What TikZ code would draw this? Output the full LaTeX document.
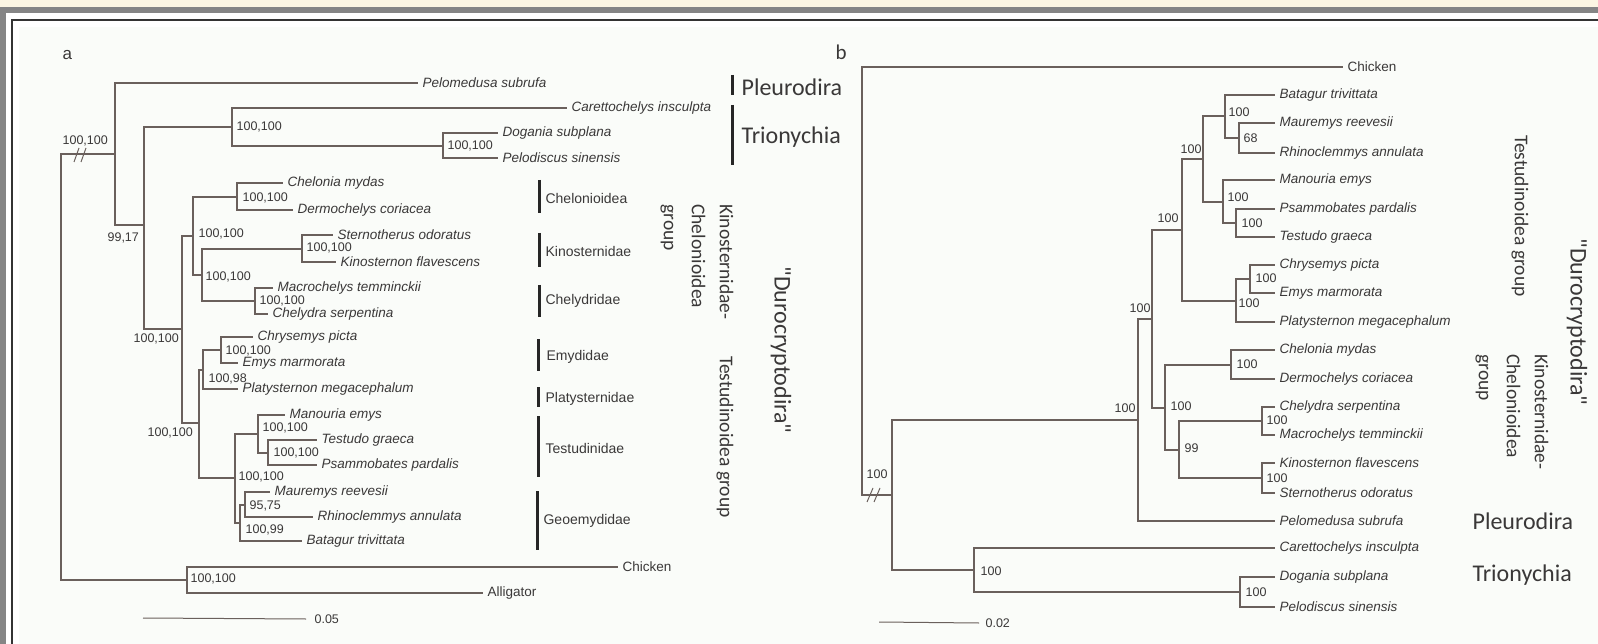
\documentclass[tikz,border=0pt]{standalone}
\usepackage{fontspec}
\setmainfont{Liberation Sans}
\newfontfamily\calfont{Carlito}
\definecolor{branch}{HTML}{6A605C}
\definecolor{ink}{HTML}{3A3838}
\definecolor{paper}{HTML}{FAFCF9}
\definecolor{cream}{HTML}{FCF6E3}
\definecolor{framegray}{HTML}{858585}

\begin{document}
\begin{tikzpicture}[x=1pt, y=-1pt, branch, line width=1.2pt,
  taxon/.style={anchor=west, inner xsep=4pt, inner ysep=0pt, text=ink, font=\fontsize{13.5}{14}\selectfont\itshape},
  supp/.style={anchor=west, inner sep=0pt, text=ink, font=\fontsize{12.5}{13}\selectfont},
  fam/.style={anchor=west, inner sep=0pt, text=ink, font=\fontsize{14}{15}\selectfont},
  clade/.style={anchor=west, inner sep=0pt, text=ink, font=\calfont\fontsize{24}{26}\selectfont},
  grouplab/.style={rotate=-90, align=left, inner sep=0pt, text=ink, font=\calfont\fontsize{19.5}{28}\selectfont},
  famBar/.style={line width=3pt, black!85}]
  \useasboundingbox (0,0) rectangle (1598,644);
  \fill[white] (0,0) rectangle (1598,644);
  \fill[cream] (0,0) rectangle (1598,7);
  \fill[framegray] (0,7) rectangle (1598,13); \fill[framegray] (0,7) rectangle (6,644);
  \fill[paper] (19,27) rectangle (1598,644);
  \draw[black!80, line width=2pt] (12,644) -- (12,20) -- (1598,20);

  % panel a
  \node[anchor=west, inner sep=0pt, text=ink, font=\fontsize{17}{17}\selectfont] (aTag) at (62,55) {a};
  \coordinate (aRoot) at (61,367);
  \coordinate (aTurt) at (115,154);
  \coordinate (aCrypto) at (144,225);
  \coordinate (aTrio) at (232,127);
  \coordinate (aPelod) at (443,146);
  \coordinate (aDuro) at (182,329);
  \coordinate (aKC) at (193,236);
  \coordinate (aChel) at (237,197);
  \coordinate (aKinChy) at (202,275);
  \coordinate (aKino) at (302,249);
  \coordinate (aChely) at (255,301);
  \coordinate (aTest) at (199,423);
  \coordinate (aEmyPla) at (203,370);
  \coordinate (aEmy) at (221,350);
  \coordinate (aTG) at (235,478);
  \coordinate (aTestu) at (258,434);
  \coordinate (aTP) at (268,453);
  \coordinate (aGeo) at (240,523);
  \coordinate (aMR) at (245,505);
  \coordinate (aOut) at (187,580);

  \node[taxon] (aPelomedusa) at (418,83) {Pelomedusa subrufa};
  \node[taxon] (aCaretto) at (567,108) {Carettochelys insculpta};
  \node[taxon] (aDogania) at (498,133) {Dogania subplana};
  \node[taxon] (aPelodiscus) at (498,158) {Pelodiscus sinensis};
  \node[taxon] (aChelonia) at (283,183) {Chelonia mydas};
  \node[taxon] (aDermo) at (293,210) {Dermochelys coriacea};
  \node[taxon] (aSterno) at (333,235) {Sternotherus odoratus};
  \node[taxon] (aKinos) at (336,262) {Kinosternon flavescens};
  \node[taxon] (aMacro) at (273,288) {Macrochelys temminckii};
  \node[taxon] (aChelydra) at (268,314) {Chelydra serpentina};
  \node[taxon] (aChrys) at (253,337) {Chrysemys picta};
  \node[taxon] (aEmys) at (238,363) {Emys marmorata};
  \node[taxon] (aPlaty) at (238,389) {Platysternon megacephalum};
  \node[taxon] (aManou) at (285,415) {Manouria emys};
  \node[taxon] (aTestudo) at (317,440) {Testudo graeca};
  \node[taxon] (aPsammo) at (317,465) {Psammobates pardalis};
  \node[taxon] (aMaure) at (270,492) {Mauremys reevesii};
  \node[taxon] (aRhino) at (313,517) {Rhinoclemmys annulata};
  \node[taxon] (aBatagur) at (302,541) {Batagur trivittata};
  \node[taxon, font=\fontsize{13.5}{14}\selectfont] (aChicken) at (618,567) {Chicken};
  \node[taxon, font=\fontsize{13.5}{14}\selectfont] (aAlli) at (483,593) {Alligator};

  \draw (aRoot) |- (aTurt); \draw (aRoot) |- (aOut);
  \draw (aTurt) |- (aPelomedusa.west); \draw (aTurt) |- (aCrypto);
  \draw (aCrypto) |- (aTrio); \draw (aCrypto) |- (aDuro);
  \draw (aTrio) |- (aCaretto.west); \draw (aTrio) |- (aPelod);
  \draw (aPelod) |- (aDogania.west); \draw (aPelod) |- (aPelodiscus.west);
  \draw (aDuro) |- (aKC); \draw (aDuro) |- (aTest);
  \draw (aKC) |- (aChel); \draw (aKC) |- (aKinChy);
  \draw (aChel) |- (aChelonia.west); \draw (aChel) |- (aDermo.west);
  \draw (aKinChy) |- (aKino); \draw (aKinChy) |- (aChely);
  \draw (aKino) |- (aSterno.west); \draw (aKino) |- (aKinos.west);
  \draw (aChely) |- (aMacro.west); \draw (aChely) |- (aChelydra.west);
  \draw (aTest) |- (aEmyPla); \draw (aTest) |- (aTG);
  \draw (aEmyPla) |- (aEmy); \draw (aEmyPla) |- (aPlaty.west);
  \draw (aEmy) |- (aChrys.west); \draw (aEmy) |- (aEmys.west);
  \draw (aTG) |- (aTestu); \draw (aTG) |- (aGeo);
  \draw (aTestu) |- (aManou.west); \draw (aTestu) |- (aTP);
  \draw (aTP) |- (aTestudo.west); \draw (aTP) |- (aPsammo.west);
  \draw (aGeo) |- (aMR); \draw (aGeo) |- (aBatagur.west);
  \draw (aMR) |- (aMaure.west); \draw (aMR) |- (aRhino.west);
  \draw (aOut) |- (aChicken.west); \draw (aOut) |- (aAlli.west);
  \draw[line width=1pt] (74,162) -- (79,148) (81,162) -- (86,148);

  \node[supp] (aS1) at (62,141) {100,100};
  \node[supp] (aS2) at (107,238) {99,17};
  \node[supp] (aS3) at (236,127) {100,100};
  \node[supp] (aS4) at (447,146) {100,100};
  \node[supp] (aS5) at (198,234) {100,100};
  \node[supp] (aS6) at (242,198) {100,100};
  \node[supp] (aS7) at (205,277) {100,100};
  \node[supp] (aS8) at (306,248) {100,100};
  \node[supp] (aS9) at (259,301) {100,100};
  \node[supp] (aS10) at (133,339) {100,100};
  \node[supp] (aS11) at (147,433) {100,100};
  \node[supp] (aS12) at (208,379) {100,98};
  \node[supp] (aS13) at (225,351) {100,100};
  \node[supp] (aS14) at (238,477) {100,100};
  \node[supp] (aS15) at (262,428) {100,100};
  \node[supp] (aS16) at (273,453) {100,100};
  \node[supp] (aS17) at (249,506) {95,75};
  \node[supp] (aS18) at (245,530) {100,99};
  \node[supp] (aS19) at (190,579) {100,100};

  \coordinate (aScaleL) at (143,618);
  \node[supp, inner xsep=8pt] (aScale) at (306,619) {0.05};
  \draw[line width=1pt] (aScaleL) -- (aScale.west);

  \draw[famBar] (732,75) -- (732,95); \node[clade] (aPleuro) at (741,87) {Pleurodira};
  \draw[famBar] (732,105) -- (732,165); \node[clade] (aTriony) at (741,137) {Trionychia};
  \draw[famBar] (539,180) -- (539,213); \node[fam] (aFam1) at (545,198) {Chelonioidea};
  \draw[famBar] (539,233) -- (539,267); \node[fam] (aFam2) at (545,251) {Kinosternidae};
  \draw[famBar] (539,285) -- (539,317); \node[fam] (aFam3) at (545,301) {Chelydridae};
  \draw[famBar] (538,339) -- (538,371); \node[fam] (aFam4) at (546,357) {Emydidae};
  \draw[famBar] (538,387) -- (538,407); \node[fam] (aFam5) at (545,399) {Platysternidae};
  \draw[famBar] (538,416) -- (538,477); \node[fam] (aFam6) at (545,448) {Testudinidae};
  \draw[famBar] (537,491) -- (537,550); \node[fam] (aFam7) at (543,521) {Geoemydidae};
  \node[grouplab] (aKCgroup) at (697,262) {Kinosternidae-\\Chelonioidea\\group};
  \node[grouplab] (aTgroup) at (725,437) {Testudinoidea group};
  \node[grouplab, font=\calfont\fontsize{24}{26}\selectfont] (aDuroLab) at (781,350) {"Durocryptodira"};

  % panel b
  \node[anchor=west, inner sep=0pt, text=ink, font=\calfont\fontsize{21}{21}\selectfont] (bTag) at (835,52) {b};
  \coordinate (bRoot) at (862,281);
  \coordinate (bTurt) at (892,495);
  \coordinate (bDuroP) at (1138,420);
  \coordinate (bDuro) at (1152,319);
  \coordinate (bTestu) at (1182,230);
  \coordinate (bGT) at (1203,159);
  \coordinate (bGeo) at (1225,116);
  \coordinate (bMR) at (1239,138);
  \coordinate (bTestud) at (1223,202);
  \coordinate (bPT) at (1236,223);
  \coordinate (bEP) at (1236,301);
  \coordinate (bEmy) at (1250,279);
  \coordinate (bKC) at (1165,408);
  \coordinate (bChel) at (1231,365);
  \coordinate (bKinChy) at (1179,450);
  \coordinate (bChely) at (1262,421);
  \coordinate (bKino) at (1262,478);
  \coordinate (bTrio) at (974,570);
  \coordinate (bPelod) at (1240,592);

  \node[taxon, font=\fontsize{13.5}{14}\selectfont] (bChicken) at (1343,67) {Chicken};
  \node[taxon] (bBatagur) at (1275,95) {Batagur trivittata};
  \node[taxon] (bMaure) at (1275,123) {Mauremys reevesii};
  \node[taxon] (bRhino) at (1275,153) {Rhinoclemmys annulata};
  \node[taxon] (bManou) at (1275,180) {Manouria emys};
  \node[taxon] (bPsammo) at (1275,209) {Psammobates pardalis};
  \node[taxon] (bTestudo) at (1275,237) {Testudo graeca};
  \node[taxon] (bChrys) at (1275,265) {Chrysemys picta};
  \node[taxon] (bEmys) at (1275,293) {Emys marmorata};
  \node[taxon] (bPlaty) at (1275,322) {Platysternon megacephalum};
  \node[taxon] (bChelonia) at (1275,350) {Chelonia mydas};
  \node[taxon] (bDermo) at (1275,379) {Dermochelys coriacea};
  \node[taxon] (bChelydra) at (1275,407) {Chelydra serpentina};
  \node[taxon] (bMacro) at (1275,435) {Macrochelys temminckii};
  \node[taxon] (bKinos) at (1275,463) {Kinosternon flavescens};
  \node[taxon] (bSterno) at (1275,493) {Sternotherus odoratus};
  \node[taxon] (bPelomedusa) at (1275,521) {Pelomedusa subrufa};
  \node[taxon] (bCaretto) at (1275,548) {Carettochelys insculpta};
  \node[taxon] (bDogania) at (1275,577) {Dogania subplana};
  \node[taxon] (bPelodiscus) at (1275,607) {Pelodiscus sinensis};

  \draw (bRoot) |- (bChicken.west); \draw (bRoot) |- (bTurt);
  \draw (bTurt) |- (bDuroP); \draw (bTurt) |- (bTrio);
  \draw (bDuroP) |- (bDuro); \draw (bDuroP) |- (bPelomedusa.west);
  \draw (bDuro) |- (bTestu); \draw (bDuro) |- (bKC);
  \draw (bTestu) |- (bGT); \draw (bTestu) |- (bEP);
  \draw (bGT) |- (bGeo); \draw (bGT) |- (bTestud);
  \draw (bGeo) |- (bBatagur.west); \draw (bGeo) |- (bMR);
  \draw (bMR) |- (bMaure.west); \draw (bMR) |- (bRhino.west);
  \draw (bTestud) |- (bManou.west); \draw (bTestud) |- (bPT);
  \draw (bPT) |- (bPsammo.west); \draw (bPT) |- (bTestudo.west);
  \draw (bEP) |- (bEmy); \draw (bEP) |- (bPlaty.west);
  \draw (bEmy) |- (bChrys.west); \draw (bEmy) |- (bEmys.west);
  \draw (bKC) |- (bChel); \draw (bKC) |- (bKinChy);
  \draw (bChel) |- (bChelonia.west); \draw (bChel) |- (bDermo.west);
  \draw (bKinChy) |- (bChely); \draw (bKinChy) |- (bKino);
  \draw (bChely) |- (bChelydra.west); \draw (bChely) |- (bMacro.west);
  \draw (bKino) |- (bKinos.west); \draw (bKino) |- (bSterno.west);
  \draw (bTrio) |- (bCaretto.west); \draw (bTrio) |- (bPelod);
  \draw (bPelod) |- (bDogania.west); \draw (bPelod) |- (bPelodiscus.west);
  \draw[line width=1pt] (867,502) -- (873,488) (874,502) -- (880,488);

  \node[supp] (bS1) at (866,474) {100};
  \node[supp] (bS2) at (1114,408) {100};
  \node[supp] (bS3) at (1129,308) {100};
  \node[supp] (bS4) at (1157,218) {100};
  \node[supp] (bS5) at (1180,149) {100};
  \node[supp] (bS6) at (1228,112) {100};
  \node[supp] (bS7) at (1243,138) {68};
  \node[supp] (bS8) at (1227,197) {100};
  \node[supp] (bS9) at (1241,223) {100};
  \node[supp] (bS10) at (1255,278) {100};
  \node[supp] (bS11) at (1238,303) {100};
  \node[supp] (bS12) at (1236,364) {100};
  \node[supp] (bS13) at (1170,406) {100};
  \node[supp] (bS14) at (1184,448) {99};
  \node[supp] (bS15) at (1266,420) {100};
  \node[supp] (bS16) at (1266,478) {100};
  \node[supp] (bS17) at (980,571) {100};
  \node[supp] (bS18) at (1245,592) {100};

  \coordinate (bScaleL) at (879,622);
  \node[supp, inner xsep=6pt] (bScale) at (979,623) {0.02};
  \draw[line width=1pt] (bScaleL) -- (bScale.west);

  \node[clade] (bPleuro) at (1472,521) {Pleurodira};
  \node[clade] (bTriony) at (1472,575) {Trionychia};
  \node[grouplab] (bTgroup) at (1520,216) {Testudinoidea group};
  \node[grouplab] (bKCgroup) at (1512,412) {Kinosternidae-\\Chelonioidea\\group};
  \node[grouplab, font=\calfont\fontsize{24}{26}\selectfont] (bDuroLab) at (1577,322) {"Durocryptodira"};
\end{tikzpicture}
\end{document}
